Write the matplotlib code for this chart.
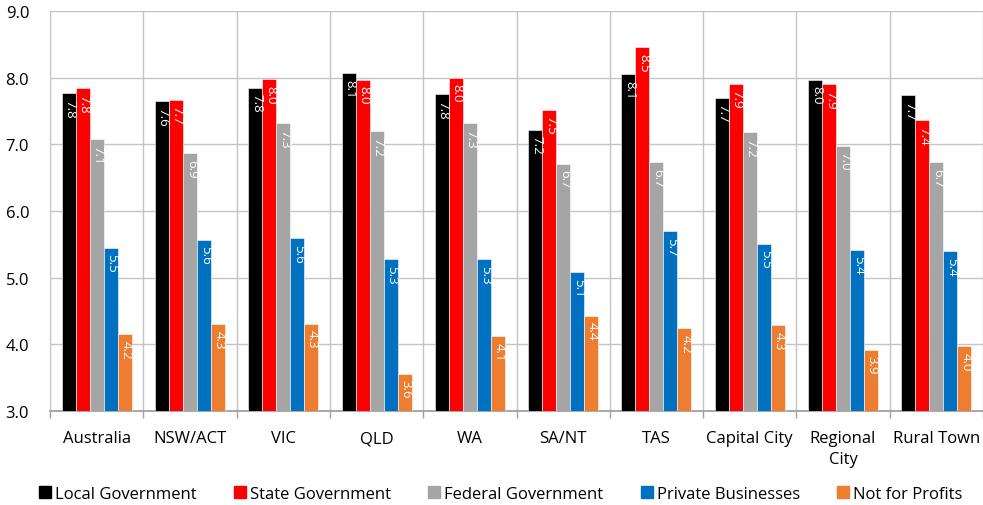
import matplotlib
matplotlib.use("Agg")
import matplotlib.pyplot as plt
from matplotlib.lines import Line2D
import numpy as np

plt.rcParams['font.family'] = ['Open Sans', 'DejaVu Sans']

categories = ["Australia", "NSW/ACT", "VIC", "QLD", "WA", "SA/NT", "TAS",
              "Capital City", "Regional\nCity", "Rural Town"]
series_names = ["Local Government", "State Government", "Federal Government",
                "Private Businesses", "Not for Profits"]
local_gov = [7.77, 7.65, 7.85, 8.07, 7.75, 7.22, 8.05, 7.70, 7.97, 7.74]
state_gov = [7.84, 7.67, 7.98, 7.97, 8.00, 7.52, 8.46, 7.91, 7.90, 7.36]
federal_gov = [7.08, 6.87, 7.32, 7.20, 7.32, 6.71, 6.73, 7.18, 6.98, 6.73]
private_bus = [5.45, 5.57, 5.59, 5.28, 5.28, 5.08, 5.70, 5.51, 5.42, 5.40]
not_for_profit = [4.15, 4.30, 4.31, 3.56, 4.12, 4.43, 4.24, 4.29, 3.92, 3.97]
labels_local = ["7.8", "7.6", "7.8", "8.1", "7.8", "7.2", "8.1", "7.7", "8.0", "7.7"]
labels_state = ["7.8", "7.7", "8.0", "8.0", "8.0", "7.5", "8.5", "7.9", "7.9", "7.4"]
labels_federal = ["7.1", "6.9", "7.3", "7.2", "7.3", "6.7", "6.7", "7.2", "7.0", "6.7"]
labels_private = ["5.5", "5.6", "5.6", "5.3", "5.3", "5.1", "5.7", "5.5", "5.4", "5.4"]
labels_nfp = ["4.2", "4.3", "4.3", "3.6", "4.1", "4.4", "4.2", "4.3", "3.9", "4.0"]
y_ticks = [3.0, 4.0, 5.0, 6.0, 7.0, 8.0, 9.0]

series = [local_gov, state_gov, federal_gov, private_bus, not_for_profit]
labels = [labels_local, labels_state, labels_federal, labels_private, labels_nfp]
colors = ["#000000", "#FF0000", "#A5A5A5", "#0070C0", "#ED7D31"]

fig = plt.figure(figsize=(9.83, 5.06), dpi=100)
ax = fig.add_axes([50/983, (506-412)/506, 933/983, 400/506])

n = len(categories)
centers = np.arange(n) + 0.5
bw = 0.15
for k, (vals, labs, col) in enumerate(zip(series, labels, colors)):
    xs = centers + (k - 2) * bw
    heights = np.array(vals) - 3.0
    ax.bar(xs, heights, width=bw, bottom=3.0, color=col,
           edgecolor="white", linewidth=0.4, zorder=3)
    for x, v, lab in zip(xs, vals, labs):
        ax.annotate(lab, (x, v), xytext=(1, -4), textcoords="offset points",
                    ha="center", va="top", rotation=270, color="white",
                    fontsize=9.5, zorder=4)

ax.set_xlim(0, n)
ax.set_ylim(3.0, 9.0)
ax.set_yticks(y_ticks)
ax.set_yticklabels([f"{t:.1f}" for t in y_ticks], fontsize=12)
ax.tick_params(axis="y", length=0, pad=15)

ax.set_xticks(np.arange(n + 1))
ax.set_xticklabels([])
ax.tick_params(axis="x", which="major", length=5, color="#A0A0A0", width=1)
ax.set_xticks(centers, minor=True)
ax.set_xticklabels(categories, minor=True, fontsize=12, linespacing=1.35)
ax.tick_params(axis="x", which="minor", length=0, pad=14)

ax.grid(True, which="major", color="#C4C4C4", linewidth=1, zorder=0)
ax.set_axisbelow(True)
for s in ["top", "right"]:
    ax.spines[s].set_visible(False)
ax.spines["left"].set_color("#C4C4C4")
ax.spines["bottom"].set_color("#9A9A9A")
ax.spines["bottom"].set_linewidth(1.2)

handles = [Line2D([0], [0], marker="s", linestyle="none", markersize=8,
                  markerfacecolor=c, markeredgecolor=c) for c in colors]
fig.legend(handles, series_names, loc="center", bbox_to_anchor=(0.51, 0.022),
           ncol=5, frameon=False, fontsize=12, handlelength=0.6,
           handletextpad=0.3, columnspacing=2.3)

fig.savefig("out.png", dpi=100)
